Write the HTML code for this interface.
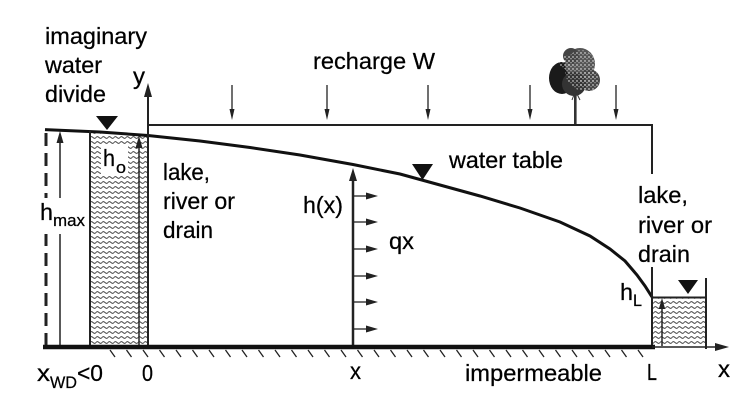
<!DOCTYPE html>
<html><head><meta charset="utf-8"><style>
html,body{margin:0;padding:0;background:#fff;}
svg{display:block;}
text{font-family:"Liberation Sans",Arial,sans-serif;fill:#000;stroke:#000;stroke-width:0.25;}
</style></head><body>
<svg width="750" height="414" viewBox="0 0 750 414" xmlns="http://www.w3.org/2000/svg">
<defs>
<pattern id="w" width="6" height="5" patternUnits="userSpaceOnUse">
<path d="M0 2.5 Q1.5 0.8 3 2.5 T6 2.5" fill="none" stroke="#222" stroke-width="0.9"/>
</pattern>
<pattern id="sp" width="4" height="4" patternUnits="userSpaceOnUse">
<circle cx="1" cy="1" r="0.7" fill="#fff"/><circle cx="3" cy="2.8" r="0.5" fill="#fff"/>
</pattern>
</defs>
<rect width="750" height="414" fill="#fff"/>

<!-- left lake waves -->
<polygon points="90,131.6 100,132 148,135.5 148,346 90,346" fill="url(#w)"/>
<rect x="101" y="146" width="27" height="28" fill="#fff"/>
<!-- right lake waves -->
<rect x="652" y="298" width="54" height="48" fill="url(#w)"/>

<!-- tree -->
<g>
<ellipse cx="562" cy="78" rx="13" ry="16" fill="#1a1a1a"/>
<ellipse cx="580" cy="64" rx="15" ry="16" fill="#555"/>
<circle cx="589" cy="80" r="11" fill="#444"/>
<circle cx="574" cy="84" r="12" fill="#333"/>
<circle cx="571" cy="56" r="8" fill="#444"/>
<ellipse cx="581" cy="70" rx="16" ry="20" fill="url(#sp)"/>
<circle cx="589" cy="81" r="10" fill="url(#sp)"/>
<circle cx="566" cy="62" r="7" fill="url(#sp)"/>
<path d="M575 92 L572 100 M576 92 L580 100" stroke="#333" stroke-width="1"/>
<rect x="574" y="88" width="2.6" height="37" fill="#333"/>
</g>

<!-- top recharge box -->
<line x1="147" y1="125" x2="653" y2="125" stroke="#222" stroke-width="2"/>
<line x1="652" y1="124" x2="652" y2="174" stroke="#222" stroke-width="2"/>

<!-- recharge arrows -->
<g stroke="#222" stroke-width="1.3">
<line x1="232" y1="85" x2="232" y2="112"/>
<line x1="327" y1="85" x2="327" y2="112"/>
<line x1="428" y1="85" x2="428" y2="112"/>
<line x1="530" y1="85" x2="530" y2="112"/>
<line x1="616" y1="85" x2="616" y2="112"/>
</g>
<g fill="#222">
<polygon points="232,120 229.5,109 234.5,109"/>
<polygon points="327,120 324.5,109 329.5,109"/>
<polygon points="428,120 425.5,109 430.5,109"/>
<polygon points="530,120 527.5,109 532.5,109"/>
<polygon points="616,120 613.5,109 618.5,109"/>
</g>

<!-- water table -->
<polyline fill="none" stroke="#111" stroke-width="3" points="45,129.6 100,132 148,135.5 200,141 250,147.5 300,155 353,164.5 400,174 440,185 480,196 520,208 560,222 590,236 610,249 625,261 637,275 645,286 652,297"/>

<!-- left lake wall -->
<line x1="90" y1="131" x2="90" y2="347" stroke="#222" stroke-width="2"/>

<!-- dashed divide -->
<line x1="46" y1="133" x2="46" y2="346" stroke="#222" stroke-width="3" stroke-dasharray="13 7"/>

<!-- h_max arrow -->
<line x1="60" y1="346" x2="60" y2="140" stroke="#222" stroke-width="1.5"/>
<polygon points="60,131 56.5,143 63.5,143" fill="#222"/>
<rect x="35" y="198" width="54" height="36" fill="#fff"/>

<!-- h0 arrow -->
<line x1="139" y1="346" x2="139" y2="145" stroke="#222" stroke-width="1.5"/>
<polygon points="139,136 135.5,148 142.5,148" fill="#222"/>

<!-- y axis -->
<line x1="148" y1="347" x2="148" y2="95" stroke="#222" stroke-width="2"/>
<polygon points="148,83 144,97 152,97" fill="#222"/>

<!-- h(x) arrow -->
<line x1="353" y1="346" x2="353" y2="178" stroke="#222" stroke-width="2.5"/>
<polygon points="353,168 349,181 357,181" fill="#222"/>

<!-- qx arrows -->
<g stroke="#222" stroke-width="1.3">
<line x1="353" y1="196" x2="368" y2="196"/>
<line x1="353" y1="222" x2="368" y2="222"/>
<line x1="353" y1="249" x2="368" y2="249"/>
<line x1="353" y1="276" x2="368" y2="276"/>
<line x1="353" y1="302" x2="368" y2="302"/>
<line x1="353" y1="329" x2="368" y2="329"/>
</g>
<g fill="#222">
<polygon points="378,196 366,192.5 366,199.5"/>
<polygon points="378,222 366,218.5 366,225.5"/>
<polygon points="378,249 366,245.5 366,252.5"/>
<polygon points="378,276 366,272.5 366,279.5"/>
<polygon points="378,302 366,298.5 366,305.5"/>
<polygon points="378,329 366,325.5 366,332.5"/>
</g>

<!-- right lake -->
<line x1="652" y1="267" x2="652" y2="349" stroke="#222" stroke-width="2"/>
<line x1="706" y1="278" x2="706" y2="349" stroke="#222" stroke-width="2"/>
<line x1="652" y1="297.5" x2="706" y2="297.5" stroke="#222" stroke-width="2"/>
<line x1="662" y1="346" x2="662" y2="306" stroke="#222" stroke-width="1.5"/>
<polygon points="662,298 658.8,309 665.2,309" fill="#222"/>

<!-- triangles -->
<polygon points="96,116 118,116 107,130" fill="#111"/>
<polygon points="412,164 433,164 422.5,180" fill="#111"/>
<polygon points="678,280 698,280 688,294" fill="#111"/>

<!-- base line and x axis -->
<line x1="43" y1="347" x2="655" y2="347" stroke="#111" stroke-width="4.5"/>
<line x1="652" y1="347" x2="716" y2="347" stroke="#222" stroke-width="1.6"/>
<polygon points="729,347 715,343 715,351" fill="#222"/>

<!-- hatching -->
<path fill="none" stroke="#222" stroke-width="1.3" d="M110 350l5 7M126.5 350l5 7M143 350l5 7M159.5 350l5 7M176 350l5 7M192.5 350l5 7M209 350l5 7M225.5 350l5 7M242 350l5 7M258.5 350l5 7M275 350l5 7M291.5 350l5 7M308 350l5 7M324.5 350l5 7M341 350l5 7M357.5 350l5 7M374 350l5 7M390.5 350l5 7M407 350l5 7M423.5 350l5 7M440 350l5 7M456.5 350l5 7M473 350l5 7M489.5 350l5 7M506 350l5 7M522.5 350l5 7M539 350l5 7M555.5 350l5 7M572 350l5 7M588.5 350l5 7M605 350l5 7M621.5 350l5 7M638 350l5 7"/>

<!-- text -->
<g font-size="23">
<text x="45" y="44" textLength="102" lengthAdjust="spacingAndGlyphs">imaginary</text>
<text x="45" y="73" textLength="57" lengthAdjust="spacingAndGlyphs">water</text>
<text x="45" y="102" textLength="61" lengthAdjust="spacingAndGlyphs">divide</text>
<text x="133" y="84" textLength="12" lengthAdjust="spacingAndGlyphs">y</text>
<text x="313" y="69" textLength="122" lengthAdjust="spacingAndGlyphs">recharge W</text>
<text x="103" y="166" textLength="12" lengthAdjust="spacingAndGlyphs">h</text>
<text x="163" y="180" textLength="47" lengthAdjust="spacingAndGlyphs">lake,</text>
<text x="163" y="209" textLength="72" lengthAdjust="spacingAndGlyphs">river or</text>
<text x="163" y="238" textLength="50" lengthAdjust="spacingAndGlyphs">drain</text>
<text x="40" y="220" textLength="13" lengthAdjust="spacingAndGlyphs">h</text>
<text x="303" y="213" textLength="40" lengthAdjust="spacingAndGlyphs">h(x)</text>
<text x="389" y="249" textLength="25" lengthAdjust="spacingAndGlyphs">qx</text>
<text x="449" y="168" textLength="114" lengthAdjust="spacingAndGlyphs">water table</text>
<text x="638" y="203" textLength="50" lengthAdjust="spacingAndGlyphs">lake,</text>
<text x="638" y="233" textLength="74" lengthAdjust="spacingAndGlyphs">river or</text>
<text x="638" y="262" textLength="52" lengthAdjust="spacingAndGlyphs">drain</text>
<text x="620" y="300" textLength="13" lengthAdjust="spacingAndGlyphs">h</text>
<text x="37" y="381" textLength="13" lengthAdjust="spacingAndGlyphs">x</text>
<text x="77" y="381" textLength="26" lengthAdjust="spacingAndGlyphs">&lt;0</text>
<text x="142" y="381" textLength="11" lengthAdjust="spacingAndGlyphs">0</text>
<text x="350" y="379" textLength="11" lengthAdjust="spacingAndGlyphs">x</text>
<text x="465" y="381" textLength="137" lengthAdjust="spacingAndGlyphs">impermeable</text>
<text x="647" y="380" textLength="10" lengthAdjust="spacingAndGlyphs">L</text>
<text x="718" y="377" textLength="12" lengthAdjust="spacingAndGlyphs">x</text>
</g>
<g font-size="17">
<text x="116" y="173" textLength="10" lengthAdjust="spacingAndGlyphs">o</text>
<text x="53" y="226" textLength="32" lengthAdjust="spacingAndGlyphs">max</text>
<text x="633" y="306" textLength="9" lengthAdjust="spacingAndGlyphs">L</text>
<text x="50" y="388" textLength="27" lengthAdjust="spacingAndGlyphs">WD</text>
</g>
</svg>
</body></html>
